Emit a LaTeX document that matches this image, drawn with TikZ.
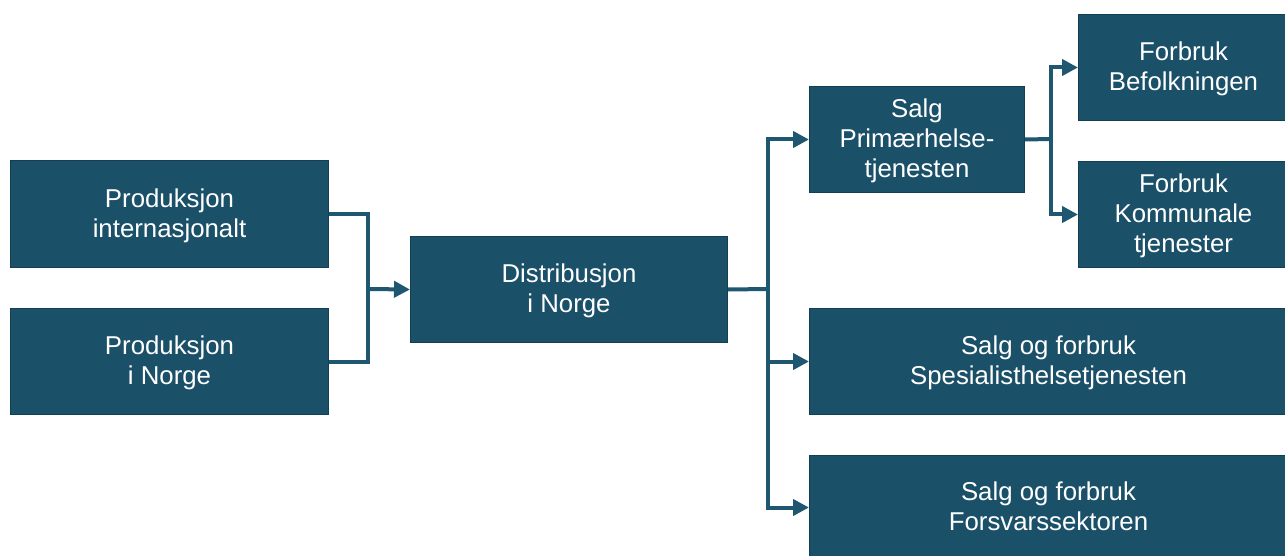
\documentclass[tikz,border=0pt]{standalone}
\usepackage{fontspec}
\setmainfont{Liberation Sans}
\usetikzlibrary{arrows.meta}
\definecolor{boxfill}{RGB}{27,80,105}
\definecolor{boxedge}{RGB}{20,62,82}
\definecolor{linkcol}{RGB}{31,86,112}
\begin{document}
\begin{tikzpicture}[x=1pt,y=-1pt,
  blok/.style={draw=boxedge,line width=1pt,fill=boxfill,text=white,anchor=north west,
    inner sep=0pt,text depth=2pt,align=center,font=\fontsize{25.8}{30}\selectfont},
  link/.style={draw=linkcol,line width=4pt,miter limit=10},
  arr/.style={link,-{Triangle[length=16pt,width=16pt]}}]
  \useasboundingbox (0,0) rectangle (1285,556);
  % left column
  \node[blok,minimum width=318pt,minimum height=107pt] (pi) at (10,160) {Produksjon\\internasjonalt};
  \node[blok,minimum width=318pt,minimum height=106pt] (pn) at (10,308) {Produksjon\\i Norge};
  % middle
  \node[blok,minimum width=317pt,minimum height=106pt] (di) at (410,236) {Distribusjon\\i Norge};
  % right column
  \node[blok,minimum width=215pt,minimum height=106pt] (sp) at (809,86) {Salg\\Primærhelse-\\tjenesten};
  \node[blok,minimum width=210pt,minimum height=106pt] (fb) at (1078,14) {Forbruk\\Befolkningen};
  \node[blok,minimum width=210pt,minimum height=106pt] (fk) at (1078,161) {Forbruk\\Kommunale\\tjenester};
  \node[blok,minimum width=478pt,minimum height=106pt] (ss) at (809,308) {Salg og forbruk\\Spesialisthelsetjenesten};
  \node[blok,minimum width=478pt,minimum height=104pt] (sf) at (809,455) {Salg og forbruk\\Forsvarssektoren};
  % junction points
  \coordinate (j1) at (368,289);
  \coordinate (j2) at (768,289);
  \coordinate (j3) at (1051,139);
  % production to distribution
  \draw[link] (pi.east) -| (j1);
  \draw[link] (pn.east) -| (j1);
  \draw[arr] (j1) -- (di.west);
  % distribution to sales
  \draw[link] (di.east) -- (j2);
  \draw[arr] (j2) |- (sp.west);
  \draw[arr] (j2) |- (ss.west);
  \draw[arr] (j2) |- (sf.west);
  % primary care to consumption
  \draw[link] (sp.east) -- (j3);
  \draw[arr] (j3) |- (fb.west);
  \draw[arr] (j3) |- (fk.west);
\end{tikzpicture}
\end{document}
